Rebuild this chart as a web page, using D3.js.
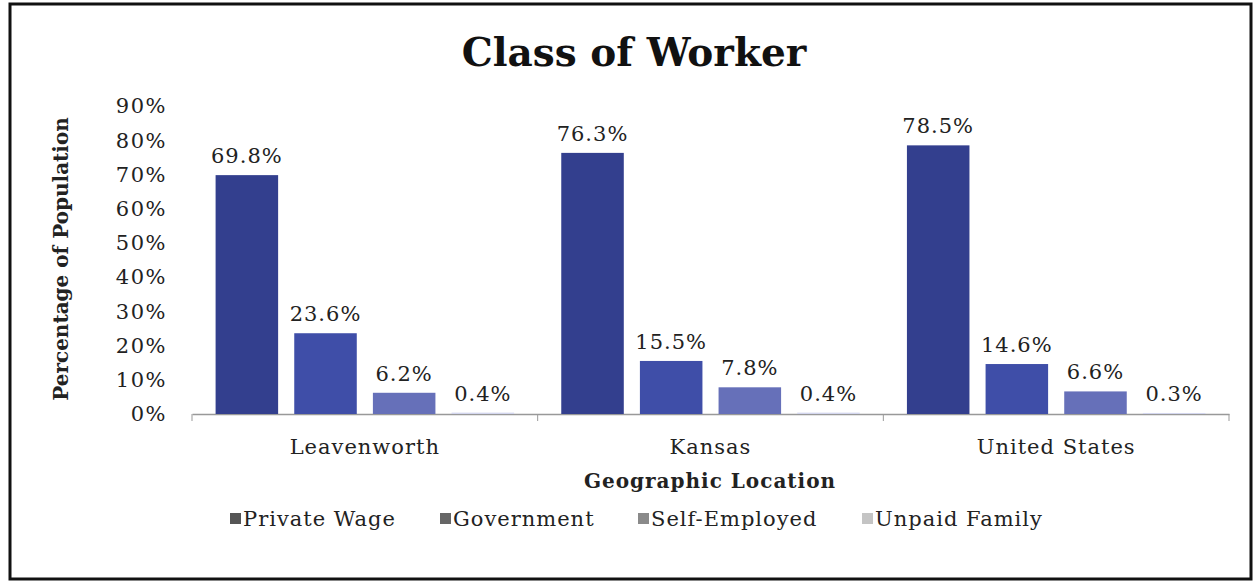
<!DOCTYPE html>
<html>
<head>
<meta charset="utf-8">
<script src="https://cdn.jsdelivr.net/npm/d3@7"></script>
<style>
  body { margin: 0; background: #fff; }
  svg { display: block; }
  text { font-family: "DejaVu Serif", "Liberation Serif", serif; fill: #222; }
</style>
</head>
<body>
<svg id="chart" width="1259" height="582"></svg>
<script>
const locations = ['Leavenworth', 'Kansas', 'United States']
const classes = ['Private Wage', 'Government', 'Self-Employed', 'Unpaid Family']
const privateWage = [69.8, 76.3, 78.5]
const government = [23.6, 15.5, 14.6]
const selfEmployed = [6.2, 7.8, 6.6]
const unpaidFamily = [0.4, 0.4, 0.3]
const yTicks = [0, 10, 20, 30, 40, 50, 60, 70, 80, 90]

const series = [privateWage, government, selfEmployed, unpaidFamily]
const barColors = ['#333f8e', '#3f4ea8', '#6670b9', '#d3d6ee']
const legendColors = ['#555555', '#666666', '#8a8a8a', '#c4c4c4']

const data = locations.map((loc, i) => ({
  loc: loc,
  values: classes.map((c, j) => ({ cls: c, value: series[j][i] }))
}))

const svg = d3.select('#chart')

// outer frame
svg.append('rect')
  .attr('x', 10).attr('y', 4)
  .attr('width', 1241).attr('height', 575)
  .attr('fill', 'none')
  .attr('stroke', '#111')
  .attr('stroke-width', 3)

const x0 = d3.scaleBand(locations, [192, 1229])
const x1 = d3.scaleBand(classes, [0, x0.bandwidth()])
  .paddingInner(0.205)
  .paddingOuter(0.3)
const y = d3.scaleLinear([0, 90], [414, 106])

// title
svg.append('text')
  .text('Class of Worker')
  .attr('x', 634).attr('y', 66)
  .attr('text-anchor', 'middle')
  .attr('font-size', '39px')
  .attr('font-weight', 'bold')
  .style('fill', '#111')

// y tick labels (no axis line)
svg.append('g')
  .selectAll('text')
  .data(yTicks)
  .join('text')
  .attr('x', 167)
  .attr('y', d => y(d))
  .attr('dy', '0.35em')
  .attr('text-anchor', 'end')
  .attr('font-size', '21px')
  .attr('letter-spacing', '1.5px')
  .text(d => d + '%')

// y title
svg.append('text')
  .text('Percentage of Population')
  .attr('transform', 'translate(68, 259) rotate(-90)')
  .attr('text-anchor', 'middle')
  .attr('font-size', '20px')
  .attr('font-weight', 'bold')

// x axis
const xAxis = d3.axisBottom(x0).tickSize(0).tickPadding(25)
const gx = svg.append('g')
  .attr('transform', 'translate(0, 414)')
  .call(xAxis)
gx.select('.domain').attr('stroke', '#999').attr('stroke-width', 1.5)
gx.selectAll('.tick text')
  .attr('font-size', '21px')
  .attr('letter-spacing', '1px')
  .attr('font-family', '"DejaVu Serif", serif')
  .style('fill', '#222')

// group boundary ticks
svg.append('g')
  .selectAll('line')
  .data(locations.map(l => x0(l)).concat([x0.range()[1]]))
  .join('line')
  .attr('x1', d => d).attr('x2', d => d)
  .attr('y1', 414).attr('y2', 421)
  .attr('stroke', '#999')

svg.append('text')
  .text('Geographic Location')
  .attr('x', 710).attr('y', 488)
  .attr('text-anchor', 'middle')
  .attr('font-size', '20px')
  .attr('letter-spacing', '1px')
  .attr('font-weight', 'bold')

// bars
const groups = svg.append('g')
  .selectAll('g')
  .data(data)
  .join('g')
  .attr('transform', d => `translate(${x0(d.loc)}, 0)`)

groups.selectAll('rect')
  .data(d => d.values)
  .join('rect')
  .attr('x', d => x1(d.cls))
  .attr('y', d => y(d.value))
  .attr('width', x1.bandwidth())
  .attr('height', d => y(0) - y(d.value))
  .attr('fill', (d, i) => barColors[i])

groups.selectAll('text')
  .data(d => d.values)
  .join('text')
  .attr('x', d => x1(d.cls) + x1.bandwidth() / 2)
  .attr('y', d => y(d.value) - 12)
  .attr('text-anchor', 'middle')
  .attr('font-size', '21px')
  .attr('letter-spacing', '1px')
  .text(d => d.value.toFixed(1) + '%')

// legend
const legendX = [230, 440, 638, 862]
const legend = svg.append('g')
  .selectAll('g')
  .data(classes)
  .join('g')
  .attr('transform', (d, i) => `translate(${legendX[i]}, 519)`)
legend.append('rect')
  .attr('x', 0).attr('y', -6)
  .attr('width', 11).attr('height', 11)
  .attr('fill', (d, i) => legendColors[i])
legend.append('text')
  .attr('x', 13)
  .attr('dy', '0.35em')
  .attr('font-size', '21px')
  .attr('letter-spacing', '1px')
  .text(d => d)
</script>
</body>
</html>
